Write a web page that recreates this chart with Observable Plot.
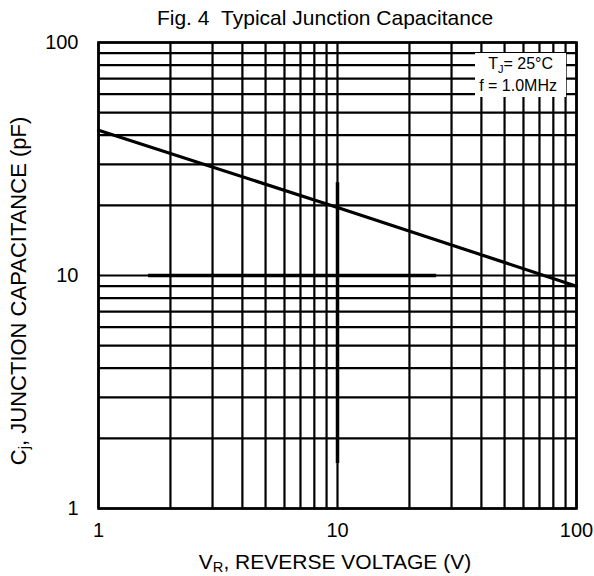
<!DOCTYPE html>
<html><head><meta charset="utf-8">
<script src="https://cdn.jsdelivr.net/npm/d3@7"></script>
<script src="https://cdn.jsdelivr.net/npm/@observablehq/plot@0.6"></script>
<style>
body{margin:0;background:#fff;font-family:"Liberation Sans",Arial,sans-serif;}
#wrap{position:relative;width:594px;height:576px;overflow:hidden;}
#wrap svg{position:absolute;left:0;top:0;}
.lbl{position:absolute;white-space:nowrap;color:#000;line-height:1;}
.lbl sub{font-size:0.7em;vertical-align:-0.22em;line-height:0;}
#legend{position:absolute;left:475px;top:53px;width:91px;height:44px;background:#fff;font-size:16px;line-height:22px;text-align:right;box-sizing:border-box;padding-top:0px;}
#legend div{white-space:nowrap;}
#legend sub{font-size:11px;vertical-align:-4px;line-height:0;}
</style></head><body>
<div id="wrap"></div>
<script>
// Data
const voltage = [1, 10, 100];
const capacitance = [42, 19.6, 9];
const gridX = [1,2,3,4,5,6,7,8,9,10,20,30,40,50,60,70,80,90,100];
const gridY = [1,2,3,4,5,6,7,8,9,10,20,30,40,50,60,70,80,90,100];
const xTicks = [1, 10, 100];
const yTicks = [1, 10, 100];
// heavy accent strokes on the grid
const accentHy = [10], accentHx1 = [1.62], accentHx2 = [26];
const accentVx = [10], accentVy1 = [1.56], accentVy2 = [25];

const curve = voltage.map((v, i) => ({v, c: capacitance[i]}));
const accentH = accentHy.map((y, i) => ({y, x1: accentHx1[i], x2: accentHx2[i]}));
const accentV = accentVx.map((x, i) => ({x, y1: accentVy1[i], y2: accentVy2[i]}));

const chart = Plot.plot({
  width: 594, height: 576,
  marginTop: 42, marginBottom: 68, marginLeft: 98, marginRight: 18,
  x: {type: "log", domain: [1, 100]},
  y: {type: "log", domain: [1, 100]},
  style: {fontFamily: "'Liberation Sans', Arial, sans-serif", fontSize: "20px", color: "#000", background: "#fff", overflow: "visible"},
  marks: [
    Plot.ruleX(gridX, {stroke: "#000", strokeWidth: 2.2}),
    Plot.ruleY(gridY, {stroke: "#000", strokeWidth: 2.2}),
    Plot.ruleY(accentH, {y: "y", x1: "x1", x2: "x2", stroke: "#000", strokeWidth: 3.5}),
    Plot.ruleX(accentV, {x: "x", y1: "y1", y2: "y2", stroke: "#000", strokeWidth: 3.5}),
    Plot.line(curve, {x: "v", y: "c", stroke: "#000", strokeWidth: 3.2}),
    Plot.frame({stroke: "#000", strokeWidth: 2.6}),
    Plot.axisX({ticks: xTicks, tickSize: 0, tickPadding: 14, tickFormat: d => String(d), label: null, fontSize: 20}),
    Plot.axisY({ticks: yTicks, tickSize: 0, tickPadding: 20, tickFormat: d => String(d), label: null, fontSize: 20})
  ]
});
const wrap = document.getElementById("wrap");
wrap.appendChild(chart);

function addLabel(html, style) {
  const d = document.createElement("div");
  d.className = "lbl";
  d.innerHTML = html;
  Object.assign(d.style, style);
  wrap.appendChild(d);
  return d;
}
addLabel("Fig. 4&nbsp;&nbsp;Typical Junction Capacitance", {left: "325px", top: "17px", fontSize: "21px", transform: "translate(-50%,-50%)"});
addLabel("V<sub>R</sub>, REVERSE VOLTAGE (V)", {left: "335px", top: "561px", fontSize: "21px", transform: "translate(-50%,-50%)"});
addLabel("C<sub>j</sub>, JUNCTION CAPACITANCE (pF)", {left: "19px", top: "291px", fontSize: "22px", transform: "translate(-50%,-50%) rotate(-90deg)"});

const leg = document.createElement("div");
leg.id = "legend";
leg.innerHTML = "<div style='padding-right:13px'>T<sub>J</sub>= 25°C</div><div style='padding-right:9px'>f = 1.0MHz</div>";
wrap.appendChild(leg);
</script>
</body></html>
